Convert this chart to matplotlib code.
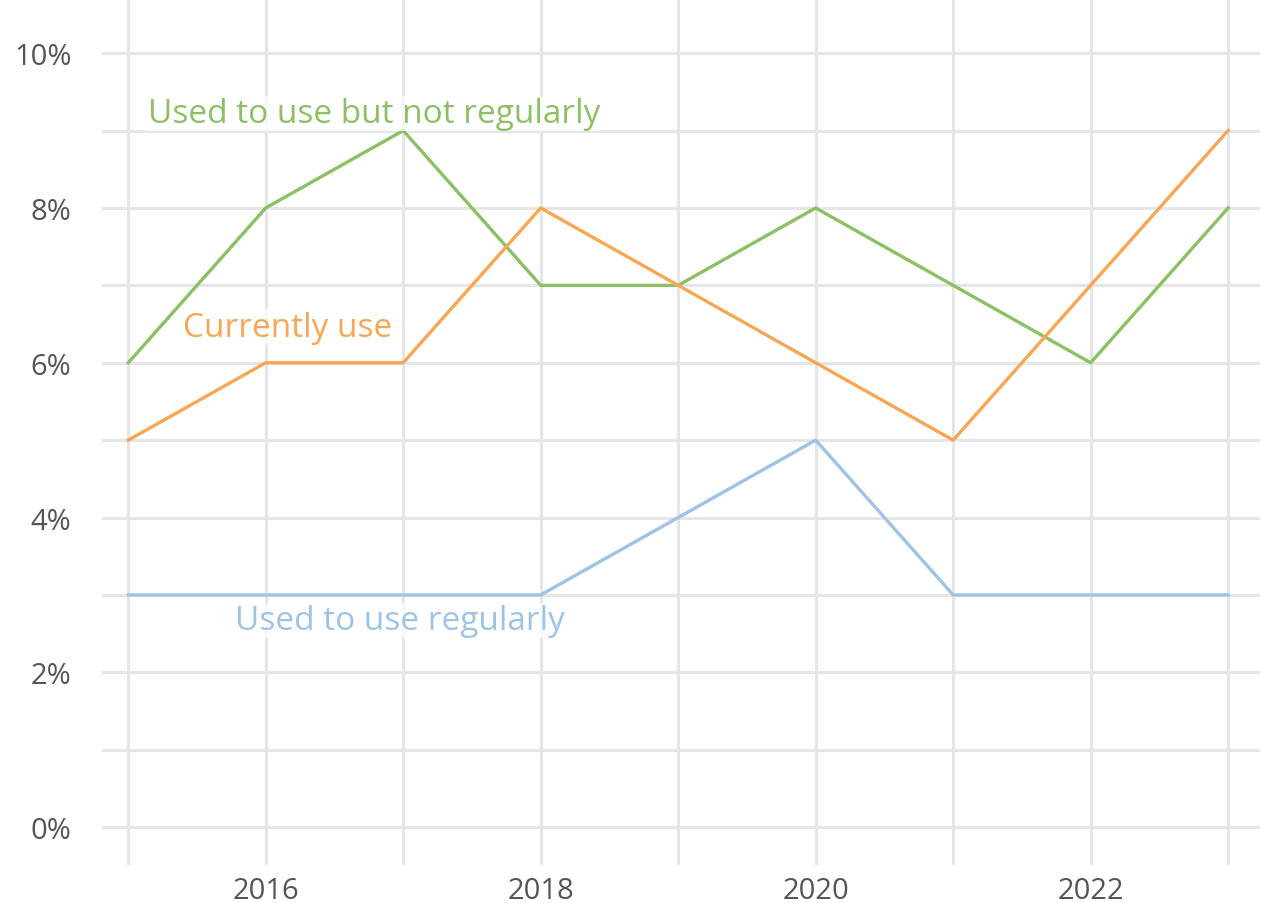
import matplotlib
matplotlib.use("Agg")
import matplotlib.pyplot as plt

years = [2015, 2016, 2017, 2018, 2019, 2020, 2021, 2022, 2023]
not_regularly = [6, 8, 9, 7, 7, 8, 7, 6, 8]
currently_use = [5, 6, 6, 8, 7, 6, 5, 7, 9]
used_regularly = [3, 3, 3, 3, 4, 5, 3, 3, 3]
x_ticks = [2016, 2018, 2020, 2022]
y_ticks = [0, 2, 4, 6, 8, 10]

green = "#8cc063"
orange = "#f9a654"
blue = "#9dc3e6"

plt.rcParams['font.family'] = ['Open Sans', 'DejaVu Sans']
fig = plt.figure(figsize=(12.61, 9.04), dpi=100)
ax = fig.add_axes([0.081, 0.042, 0.918, 0.958])

ax.plot(years, not_regularly, color=green, lw=2.4, zorder=3)
ax.plot(years, currently_use, color=orange, lw=2.4, zorder=3)
ax.plot(years, used_regularly, color=blue, lw=2.4, zorder=3)

ax.set_xlim(2014.81, 2023.23)
ax.set_ylim(-0.49, 10.7)
ax.set_xticks(years, minor=False)
ax.set_xticklabels([str(y) if y in x_ticks else "" for y in years])
ax.set_yticks(list(range(0, 11)))
ax.set_yticklabels([f"{v}%" if v in y_ticks else "" for v in range(0, 11)])
ax.grid(True, color="#e6e6e6", lw=2.2, zorder=0)
for s in ax.spines.values():
    s.set_visible(False)
ax.tick_params(axis='both', length=0, labelsize=21, colors="#555555")
ax.tick_params(axis='y', pad=22)
ax.tick_params(axis='x', pad=8)

box = dict(facecolor="white", edgecolor="none", alpha=0.7, pad=1)
ax.text(2015.14, 9.22, "Used to use but not regularly", color=green, fontsize=24,
        va="center", ha="left", bbox=box, zorder=4)
ax.text(2015.4, 6.46, "Currently use", color=orange, fontsize=24,
        va="center", ha="left", bbox=box, zorder=4)
ax.text(2015.78, 2.67, "Used to use regularly", color=blue, fontsize=24,
        va="center", ha="left", bbox=box, zorder=4)

fig.savefig("out.png", dpi=100)
